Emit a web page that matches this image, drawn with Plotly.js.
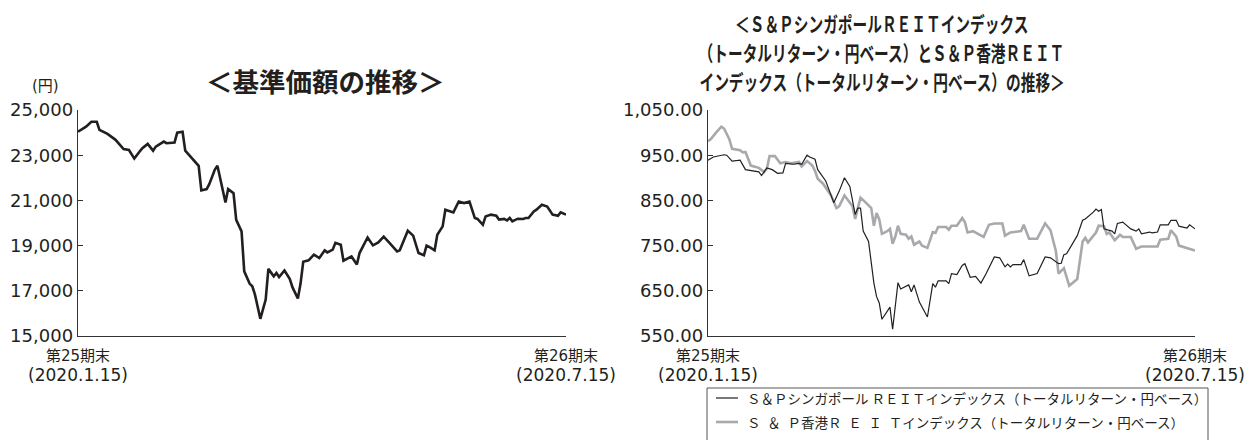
<!DOCTYPE html>
<html><head><meta charset="utf-8">
<script src="https://cdn.plot.ly/plotly-3.0.1.min.js"></script>
<style>html,body{margin:0;padding:0;background:#fff}</style>
</head><body><div id="chart" style="width:1251px;height:440px"></div>
<script>
// ---- Data (x = days since 2020-01-15) ----
const navDays = [0,3,5,7,8,11,14,17,19,21,23,24,26,28,29,32,33,36,37,39,40,42,45,46,48,49,51,52,54,55,56,58,59,61,62,64,65,66,68,70,71,73,74,75,77,79,80,82,83,84,86,88,90,92,93,95,96,98,99,102,104,105,108,110,112,114,116,117,119,120,121,123,125,127,129,130,131,133,134,136,137,140,142,144,146,148,149,151,152,154,156,157,159,160,161,162,164,166,167,168,170,171,173,175,177,179,180,182];
const navValues = [24040,24260,24480,24480,24120,23940,23680,23270,23230,22850,23160,23310,23500,23200,23380,23600,23530,23560,24000,24040,23200,22940,22530,21440,21500,21730,22350,22530,21400,20910,21500,21320,20140,19630,17860,17320,17200,16830,15760,16610,17970,17640,17790,17610,17900,17520,17150,16660,17320,18280,18350,18600,18450,18790,18700,18820,19120,19040,18330,18520,18160,18670,19360,19010,19140,19400,19140,19010,18740,18790,19090,19660,19440,18670,18570,19000,18940,18790,19480,19850,20590,20470,20950,20880,20950,20220,20180,19920,20290,20370,20320,20150,20180,20110,20220,20070,20190,20180,20220,20220,20510,20590,20810,20730,20370,20320,20470,20370];

const sgDays = [0,2,6,7,9,12,14,17,19,20,22,24,26,28,29,32,34,35,37,38,40,41,44,47,49,51,53,55,56,57,58,60,62,63,64,65,68,69,71,72,75,76,77,79,82,84,85,86,89,90,91,93,95,96,98,100,102,104,105,107,109,111,112,113,114,117,118,120,123,126,128,131,132,133,134,138,140,141,144,145,146,147,148,151,152,153,155,158,160,161,162,165,166,168,169,172,173,175,176,179,180,182];
const sgValues = [939,946,951,950,937,939,918,916,913,905,922,918,910,911,932,930,932,930,950,946,941,918,893,845,870,900,881,819,833,833,782,759,667,637,623,587,614,565,668,654,663,648,663,625,592,666,658,672,672,666,688,686,706,710,680,682,667,689,700,725,723,703,709,703,708,708,719,683,688,725,723,710,711,730,732,772,806,809,824,831,826,830,787,782,776,799,802,787,782,787,776,780,778,780,796,796,806,806,793,789,796,787];

const hkDays = [0,1,3,5,6,8,9,12,13,14,16,19,21,22,23,25,27,29,31,33,34,35,37,39,40,41,43,46,48,49,51,52,54,55,56,57,59,61,62,63,64,65,67,68,69,70,71,72,74,75,76,77,79,80,82,84,85,86,89,90,91,93,95,96,97,99,103,105,107,110,111,113,117,118,120,123,126,128,130,131,133,135,138,140,141,142,145,146,148,149,150,152,154,155,158,160,162,168,169,172,173,175,176,182];
const hkValues = [981,985,1000,1013,1009,985,964,961,956,957,927,922,913,920,948,948,932,935,932,934,935,925,937,927,915,898,887,861,833,837,861,853,837,809,830,856,845,833,794,822,808,776,782,787,754,770,794,776,774,765,770,752,759,750,745,780,778,791,791,785,794,794,811,802,779,782,769,796,799,799,772,779,782,796,765,765,799,784,738,688,700,661,676,759,767,757,779,794,793,776,779,762,774,769,769,743,748,748,763,765,784,770,750,739];

const xTickVals = [0, 182];
const xTickText = ['<span style="font-size:15px">第25期末</span><br><span style="font-size:17px">(2020.1.15)</span>',
                   '<span style="font-size:15px">第26期末</span><br><span style="font-size:17px">(2020.7.15)</span>'];
const navTicks = [15000, 17000, 19000, 21000, 23000, 25000];
const idxTicks = [550, 650, 750, 850, 950, 1050];

const seriesNames = ['Ｓ＆Ｐシンガポール ＲＥＩＴインデックス（トータルリターン・円ベース）',
                     'Ｓ\u2002＆\u2002Ｐ香港Ｒ\u2002Ｅ\u2002Ｉ\u2002Ｔインデックス（トータルリターン・円ベース）'];

// ---- Layout helpers ----
const W = 1251, H = 440;
const px = x => x / W, py = y => 1 - y / H;
const INK = '#231f20', GRAY = '#a7a9ac';
const tickFont = {family: 'DejaVu Sans, Noto Sans CJK JP, sans-serif', size: 18, color: INK};
const xFont = {family: 'DejaVu Sans, Noto Sans CJK JP, sans-serif', size: 15.5, color: INK};

function xAxis(domain, anchor) {
  return {domain, anchor, range: [0, 182], tickvals: xTickVals, ticktext: xTickText,
    showline: true, linecolor: '#333', linewidth: 1.3, ticks: 'inside', ticklen: 6, tickwidth: 1.3,
    tickcolor: '#333', showgrid: false, zeroline: false, tickfont: xFont, ticklabelstandoff: 5,
    fixedrange: true, automargin: false};
}
function yAxis(domain, anchor, range, vals, fmt) {
  return {domain, anchor, range, tickvals: vals, tickformat: fmt,
    showline: true, linecolor: '#333', linewidth: 1.3, ticks: 'inside', ticklen: 5, tickwidth: 1.3,
    tickcolor: '#333', showgrid: false, zeroline: false, tickfont: tickFont, fixedrange: true, automargin: false};
}

const traces = [
  {x: navDays, y: navValues, xaxis: 'x', yaxis: 'y', type: 'scatter', mode: 'lines',
   line: {color: INK, width: 2.6}, showlegend: false, hoverinfo: 'skip'},
  {x: hkDays, y: hkValues, xaxis: 'x2', yaxis: 'y2', type: 'scatter', mode: 'lines', name: seriesNames[1],
   line: {color: GRAY, width: 2.6}, showlegend: false, hoverinfo: 'skip'},
  {x: sgDays, y: sgValues, xaxis: 'x2', yaxis: 'y2', type: 'scatter', mode: 'lines', name: seriesNames[0],
   line: {color: INK, width: 1.2}, showlegend: false, hoverinfo: 'skip'}
];

const yDom = [py(336), py(110)];
const titleFont = {family: 'Noto Sans CJK JP, sans-serif', size: 21, color: INK, weight: 'bold'};
const legendFont = {family: 'Noto Sans CJK JP, sans-serif', size: 13.5, color: INK};
const annotations = [
  {text: '＜基準価額の推移＞', x: px(325), y: py(80), xref: 'paper', yref: 'paper', xanchor: 'center', yanchor: 'middle', showarrow: false,
   font: {family: 'Noto Sans CJK JP, sans-serif', size: 26.5, color: INK, weight: 'bold'}},
  {text: '(円)', x: px(45), y: py(86), xref: 'paper', yref: 'paper', xanchor: 'center', yanchor: 'middle', showarrow: false,
   font: {family: 'DejaVu Sans, Noto Sans CJK JP, sans-serif', size: 15, color: INK}},
  {text: '＜Ｓ＆ＰシンガポールＲＥＩＴインデックス', x: px(882), y: py(22.5), xref: 'paper', yref: 'paper', xanchor: 'center', yanchor: 'middle', showarrow: false, font: titleFont},
  {text: '（トータルリターン・円ベース）とＳ＆Ｐ香港ＲＥＩＴ', x: px(882), y: py(51.5), xref: 'paper', yref: 'paper', xanchor: 'center', yanchor: 'middle', showarrow: false, font: titleFont},
  {text: 'インデックス（トータルリターン・円ベース）の推移＞', x: px(882), y: py(80.5), xref: 'paper', yref: 'paper', xanchor: 'center', yanchor: 'middle', showarrow: false, font: titleFont},
  {text: seriesNames[0], x: px(745), y: py(398), xref: 'paper', yref: 'paper', xanchor: 'left', yanchor: 'middle', showarrow: false, font: legendFont},
  {text: seriesNames[1], x: px(745), y: py(422), xref: 'paper', yref: 'paper', xanchor: 'left', yanchor: 'middle', showarrow: false, font: legendFont}
];
const shapes = [
  {type: 'rect', xref: 'paper', yref: 'paper', x0: px(707), x1: px(1208), y0: py(388), y1: py(448), line: {color: '#555', width: 1}, fillcolor: 'rgba(0,0,0,0)'},
  {type: 'line', xref: 'paper', yref: 'paper', x0: px(716), x1: px(738), y0: py(398), y1: py(398), line: {color: INK, width: 1.2}},
  {type: 'line', xref: 'paper', yref: 'paper', x0: px(716), x1: px(738), y0: py(422), y1: py(422), line: {color: GRAY, width: 2.6}}
];

const layout = {
  width: W, height: H, autosize: false, margin: {l: 0, r: 0, t: 0, b: 0},
  paper_bgcolor: '#fff', plot_bgcolor: 'rgba(0,0,0,0)', showlegend: false,
  xaxis: xAxis([px(78), px(566)], 'y'),
  yaxis: yAxis(yDom, 'x', [15000, 25000], navTicks, ',d'),
  xaxis2: xAxis([px(708), px(1195)], 'y2'),
  yaxis2: yAxis(yDom, 'x2', [550, 1050], idxTicks, ',.2f'),
  annotations, shapes
};

Plotly.newPlot('chart', traces, layout, {staticPlot: true, displayModeBar: false}).then(() => {
  // condensed look for the right-hand title (horizontal squeeze around each line's centre)
  document.querySelectorAll('#chart .annotation').forEach(g => {
    const i = +g.getAttribute('data-index');
    if (i >= 2 && i <= 4) {
      const t = g.querySelector('text.annotation-text');
      if (!t) return;
      const b = t.getBBox();
      const cx = b.x + b.width / 2;
      const prev = t.getAttribute('transform') || '';
      t.setAttribute('transform', prev + ' translate(' + cx + ',0) scale(0.7,1) translate(' + (-cx) + ',0)');
    }
  });
});
</script></body></html>
